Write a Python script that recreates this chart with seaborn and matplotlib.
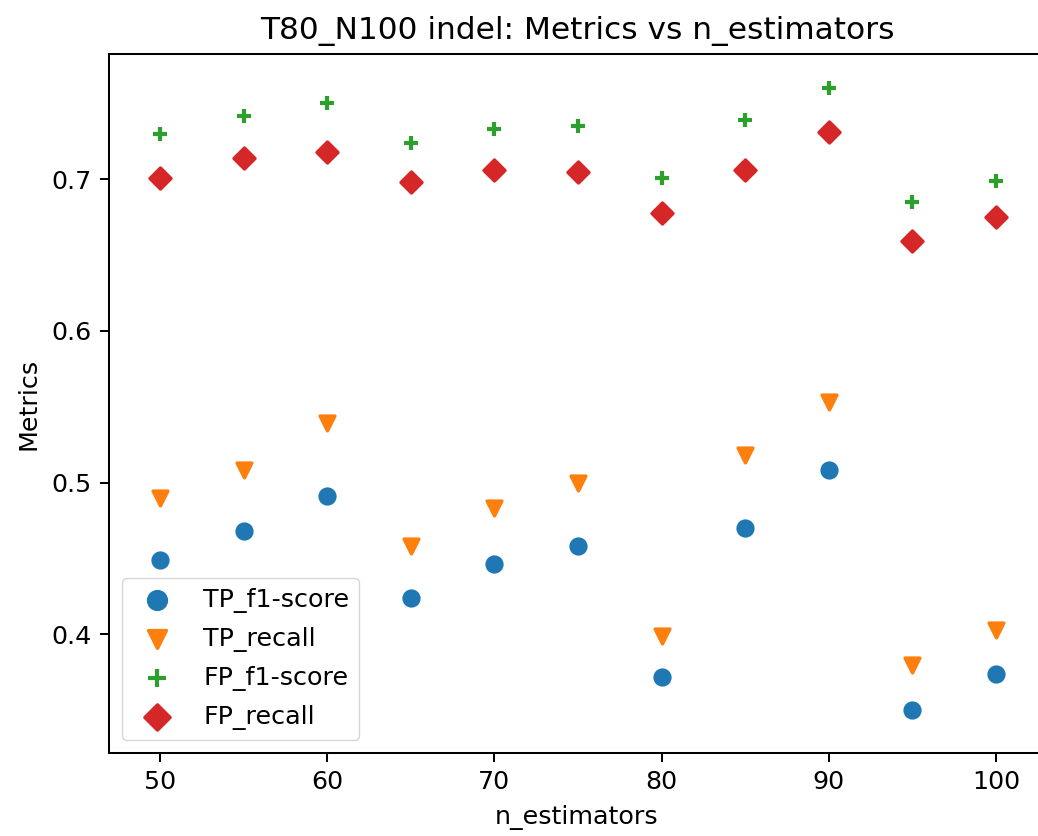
import matplotlib
matplotlib.use("Agg")
import matplotlib.pyplot as plt
import seaborn as sns
import pandas as pd

# ---- data ----
n_estimators = [50, 55, 60, 65, 70, 75, 80, 85, 90, 95, 100]
tp_f1 = [0.449, 0.468, 0.491, 0.424, 0.446, 0.458, 0.372, 0.470, 0.508, 0.350, 0.374]
tp_recall = [0.490, 0.508, 0.539, 0.458, 0.483, 0.500, 0.399, 0.518, 0.553, 0.380, 0.403]
fp_f1 = [0.730, 0.742, 0.750, 0.724, 0.733, 0.735, 0.701, 0.739, 0.760, 0.685, 0.699]
fp_recall = [0.701, 0.714, 0.718, 0.698, 0.706, 0.705, 0.678, 0.706, 0.731, 0.659, 0.675]

series_names = ["TP_f1-score", "TP_recall", "FP_f1-score", "FP_recall"]
series_values = [tp_f1, tp_recall, fp_f1, fp_recall]
series_markers = ["o", "v", "+", "D"]
series_colors = ["#1f77b4", "#ff7f0e", "#2ca02c", "#d62728"]

x_ticks = [50, 60, 70, 80, 90, 100]
y_ticks = [0.4, 0.5, 0.6, 0.7]
title = "T80_N100 indel: Metrics vs n_estimators"

df = pd.concat(
    [pd.DataFrame({"n_estimators": n_estimators, "value": v, "metric": name})
     for name, v in zip(series_names, series_values)],
    ignore_index=True,
)

S = 1.83  # scale factor relative to matplotlib defaults
plt.rcParams.update({
    "font.family": ["DejaVu Sans"],
    "font.size": 10 * S,
    "axes.linewidth": 0.8 * S,
    "xtick.major.width": 0.8 * S,
    "ytick.major.width": 0.8 * S,
    "xtick.major.size": 3.5 * S,
    "ytick.major.size": 3.5 * S,
    "xtick.major.pad": 3.5 * S,
    "ytick.major.pad": 3.5 * S,
})

fig = plt.figure(figsize=(10.38, 8.36), dpi=100)
W, H = 1038, 836
left, right, top, bottom = 109, 1120, 54.3, 752.7
ax = fig.add_axes([left / W, 1 - bottom / H, (right - left) / W, (bottom - top) / H])
ax.spines["right"].set_visible(False)  # lies outside the cropped canvas

for name, mk, col in zip(series_names, series_markers, series_colors):
    sub = df[df["metric"] == name]
    kws = dict(marker=mk, color=col, s=115, label=name, ax=ax)
    if mk != "+":
        kws["edgecolor"] = "face"
        kws["linewidth"] = 2.4
    else:
        kws["linewidth"] = 3.0
    sns.scatterplot(data=sub, x="n_estimators", y="value", **kws)

ax.set_xlim(46.95, 107.42)
ax.set_ylim(0.3219, 0.7824)
ax.set_xticks(x_ticks)
ax.set_yticks(y_ticks)
ax.set_yticklabels([f"{v:.1f}" for v in y_ticks])
ax.set_xlabel("n_estimators", fontsize=10 * S, labelpad=4 * S, x=(577 - left) / (right - left))
ax.set_ylabel("Metrics", fontsize=10 * S, labelpad=4 * S)
ax.set_title(title, fontsize=22.5, pad=6 * S, x=(577 - left) / (right - left))
ax.legend(loc="lower left", fontsize=10 * S, markerscale=1.2, labelspacing=0.55,
          borderaxespad=0.5)

fig.savefig("out.png", dpi=100)
